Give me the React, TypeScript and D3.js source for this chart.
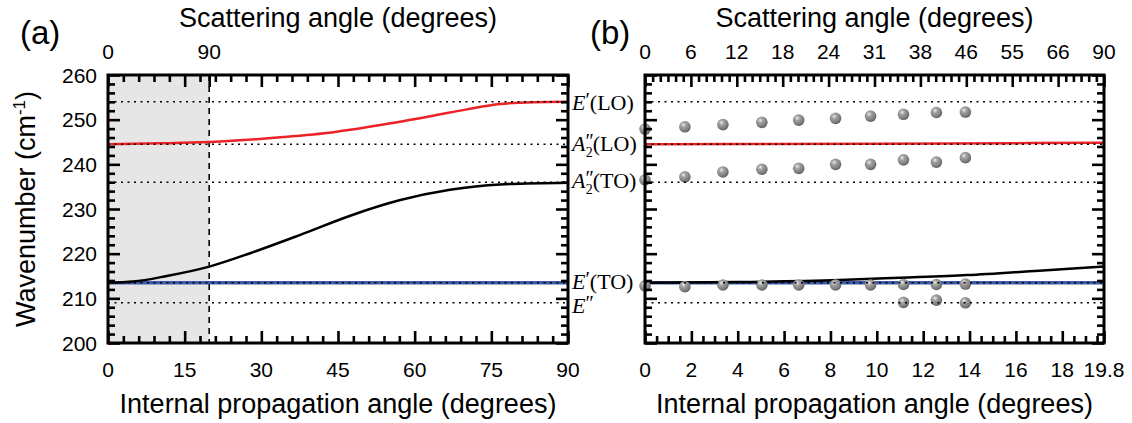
import React, { useEffect, useRef } from 'react';
import * as d3 from 'd3';

// ---------- data ----------
// Panel (a): internal propagation angle (deg) -> wavenumber (cm^-1)
const redAAngles = [0, 10, 19.8, 34.3, 44.1, 53.9, 63.7, 70.2, 76.7, 83.3, 90];
const redAValues = [244.5, 244.7, 245.0, 246.1, 247.2, 248.9, 250.9, 252.3, 253.5, 253.9, 254.0];
const blackAAngles = [0, 4.9, 11.5, 19.8, 27.8, 37.6, 47.4, 57.2, 66.9, 76.7, 90];
const blackAValues = [213.5, 213.75, 215.0, 217.1, 220.1, 224.2, 228.5, 232.0, 234.3, 235.5, 235.9];
const blueAAngles = [0, 90];
const blueAValues = [213.5, 213.5];
const criticalAngle = 19.8;

// Panel (b)
const redBAngles = [0, 10, 19.8];
const redBValues = [244.5, 244.6, 244.85];
const blackBAngles = [0, 4, 8.4, 11, 13.9, 17, 19.8];
const blackBValues = [213.5, 213.65, 214.1, 214.6, 215.2, 216.2, 217.1];
const blueBAngles = [0, 19.8];
const blueBValues = [213.5, 213.5];

// measured points (panel b)
const pointAngles = [0, 1.72, 3.36, 5.04, 6.63, 8.22, 9.73, 11.15, 12.57, 13.82];
const upperValues = [247.9, 248.4, 248.9, 249.4, 249.9, 250.3, 250.8, 251.2, 251.6, 251.7];
const middleValues = [236.5, 237.2, 238.3, 238.9, 239.1, 240.0, 240.0, 241.0, 240.5, 241.5];
const etoValues = [212.8, 212.6, 213.0, 213.0, 213.0, 213.0, 213.0, 213.1, 213.1, 213.2];
const ePPAngles = [11.15, 12.57, 13.82];
const ePPValues = [209.1, 209.6, 209.0];

// reference modes
const modeValues = [254, 244.5, 236, 213.5, 209];
const modeLetters = ['E', 'A', 'A', 'E', 'E'];
const modePrimes = ['\u2032', '\u2033', '\u2033', '\u2032', '\u2033'];
const modeSubs = ['', '2', '2', '', ''];
const modeTypes = ['(LO)', '(LO)', '(TO)', '(TO)', ''];
const modeLabelNudge = [8, 7, 6, 6, 10];

// tick labels
const yTickValues = [200, 210, 220, 230, 240, 250, 260];
const aBottomTicks = [0, 15, 30, 45, 60, 75, 90];
const aTopTickAngles = [0, 19.8];
const aTopTickLabels = ['0', '90'];
const bBottomTicks = [0, 2, 4, 6, 8, 10, 12, 14, 16, 18, 19.8];
const bTopTickLabels = ['0', '6', '12', '18', '24', '31', '38', '46', '55', '66', '90'];

// ---------- layout ----------
const W = 1132;
const H = 423;
const PT = 75;
const PB = 343;
const SANS = "'Liberation Sans', Arial, sans-serif";
const SERIF = "'Liberation Serif', 'Times New Roman', serif";
const MAJOR = 12;
const MINOR = 7;

const yScale = d3.scaleLinear().domain([200, 260]).range([PB, PT]);
const xA = d3.scaleLinear().domain([0, 90]).range([108, 568]);
const xB = d3.scaleLinear().domain([0, 19.8]).range([645, 1104]);

function linePath(x: d3.ScaleLinear<number, number>, xs: number[], ys: number[]) {
  const pts = xs.map((v, i) => [v, ys[i]] as [number, number]);
  return d3
    .line<[number, number]>()
    .x((d) => x(d[0]))
    .y((d) => yScale(d[1]))
    .curve(d3.curveMonotoneX)(pts) as string;
}

function RefLines({ x0, x1 }: { x0: number; x1: number }) {
  return (
    <g>
      {modeValues.map((v, i) => (
        <line key={i} x1={x0} x2={x1} y1={yScale(v)} y2={yScale(v)} stroke="#000" strokeWidth={1.6} strokeDasharray="2 4.5" />
      ))}
    </g>
  );
}

function Sphere({ cx, cy }: { cx: number; cy: number }) {
  return <circle cx={cx} cy={cy} r={5.8} fill="url(#sphere)" />;
}

export default function App() {
  const tickRef = useRef<SVGGElement | null>(null);
  const aL = xA.range()[0];
  const aR = xA.range()[1];
  const bL = xB.range()[0];
  const bR = xB.range()[1];
  const bTopMajors = bTopTickLabels.map((_, i) => (i * 19.8) / 10);

  useEffect(() => {
    const root = d3.select(tickRef.current);
    root.selectAll('*').remove();

    const aMinor = d3.range(0, 90.01, 3).filter((v) => v % 15 !== 0);
    const bMinorBottom = d3.range(0, 19.8, 0.5).filter((v) => v % 2 !== 0);
    const bTopMinors: number[] = [];
    for (let i = 0; i < 10; i++) {
      for (let k = 1; k < 6; k++) bTopMinors.push(((i + k / 6) * 19.8) / 10);
    }
    const yMajor = d3.range(200, 260.01, 10);
    const yMinor = d3.range(200, 260.01, 2).filter((v) => v % 10 !== 0);

    const draw = (axis: d3.Axis<number>, tx: number, ty: number) => {
      const g = root.append('g').attr('transform', `translate(${tx},${ty})`).call(axis as any);
      g.select('.domain').remove();
      g.selectAll('text').remove();
      g.selectAll('line').attr('stroke', '#000').attr('stroke-width', 2.6);
    };
    const mk = (a: d3.Axis<number>, vals: number[], size: number) =>
      a.tickValues(vals).tickSize(-size).tickFormat(() => '');

    // panel (a)
    draw(mk(d3.axisBottom(xA) as any, aBottomTicks, MAJOR), 0, PB);
    draw(mk(d3.axisBottom(xA) as any, aMinor, MINOR), 0, PB);
    draw(mk(d3.axisTop(xA) as any, [...aBottomTicks, criticalAngle], MAJOR), 0, PT);
    draw(mk(d3.axisTop(xA) as any, aMinor, MINOR), 0, PT);
    draw(mk(d3.axisLeft(yScale) as any, yMajor, MAJOR), aL, 0);
    draw(mk(d3.axisLeft(yScale) as any, yMinor, MINOR), aL, 0);
    draw(mk(d3.axisRight(yScale) as any, yMajor, MAJOR), aR, 0);
    draw(mk(d3.axisRight(yScale) as any, yMinor, MINOR), aR, 0);
    // panel (b)
    draw(mk(d3.axisBottom(xB) as any, bBottomTicks, MAJOR), 0, PB);
    draw(mk(d3.axisBottom(xB) as any, bMinorBottom, MINOR), 0, PB);
    draw(mk(d3.axisTop(xB) as any, bTopMajors, MAJOR), 0, PT);
    draw(mk(d3.axisTop(xB) as any, bTopMinors, MINOR), 0, PT);
    draw(mk(d3.axisLeft(yScale) as any, yMajor, MAJOR), bL, 0);
    draw(mk(d3.axisLeft(yScale) as any, yMinor, MINOR), bL, 0);
    draw(mk(d3.axisRight(yScale) as any, yMajor, MAJOR), bR, 0);
    draw(mk(d3.axisRight(yScale) as any, yMinor, MINOR), bR, 0);
  }, []);

  return (
    <svg width={W} height={H} style={{ position: 'absolute', left: 0, top: 0, background: '#fff' }}>
      <defs>
        <radialGradient id="sphere" cx="0.38" cy="0.33" r="0.7">
          <stop offset="0" stopColor="#ececec" />
          <stop offset="0.3" stopColor="#a2a2a2" />
          <stop offset="0.75" stopColor="#7c7c7c" />
          <stop offset="1" stopColor="#5a5a5a" />
        </radialGradient>
      </defs>

      {/* ---------------- panel (a) ---------------- */}
      <rect x={aL} y={PT} width={xA(criticalAngle) - aL} height={PB - PT} fill="#e6e6e6" />
      <line x1={xA(criticalAngle)} x2={xA(criticalAngle)} y1={PT} y2={PB} stroke="#000" strokeWidth={1.6} strokeDasharray="6 5" />
      <path d={linePath(xA, blueAAngles, blueAValues)} fill="none" stroke="#3d5ba9" strokeWidth={3.5} />
      <path d={linePath(xA, blackAAngles, blackAValues)} fill="none" stroke="#000" strokeWidth={2.5} />
      <path d={linePath(xA, redAAngles, redAValues)} fill="none" stroke="#ec2227" strokeWidth={2.5} />
      <RefLines x0={aL} x1={aR} />

      {/* ---------------- panel (b) ---------------- */}
      <path d={linePath(xB, blueBAngles, blueBValues)} fill="none" stroke="#3d5ba9" strokeWidth={3.5} />
      <path d={linePath(xB, blackBAngles, blackBValues)} fill="none" stroke="#000" strokeWidth={2.5} />
      <path d={linePath(xB, redBAngles, redBValues)} fill="none" stroke="#ec2227" strokeWidth={2.5} />
      {pointAngles.map((a, i) => (
        <g key={'p' + i}>
          <Sphere cx={xB(a)} cy={yScale(upperValues[i])} />
          <Sphere cx={xB(a)} cy={yScale(middleValues[i])} />
          <Sphere cx={xB(a)} cy={yScale(etoValues[i])} />
        </g>
      ))}
      {ePPAngles.map((a, i) => (
        <Sphere key={'e' + i} cx={xB(a)} cy={yScale(ePPValues[i])} />
      ))}
      <RefLines x0={bL} x1={bR} />

      {/* ticks drawn by d3 axes */}
      <g ref={tickRef} />

      {/* frames */}
      <rect x={aL} y={PT} width={aR - aL} height={PB - PT} fill="none" stroke="#000" strokeWidth={3} />
      <rect x={bL} y={PT} width={bR - bL} height={PB - PT} fill="none" stroke="#000" strokeWidth={3} />

      {/* ---------------- text ---------------- */}
      <g fontFamily={SANS} fill="#000">
        <text x={20} y={44} fontSize={33}>(a)</text>
        <text x={590} y={44} fontSize={33}>(b)</text>
        <text x={(aL + aR) / 2} y={27} fontSize={27} textAnchor="middle">Scattering angle (degrees)</text>
        <text x={(bL + bR) / 2} y={27} fontSize={27} textAnchor="middle">Scattering angle (degrees)</text>
        <text x={(aL + aR) / 2} y={413} fontSize={27} textAnchor="middle">Internal propagation angle (degrees)</text>
        <text x={(bL + bR) / 2} y={413} fontSize={27} textAnchor="middle">Internal propagation angle (degrees)</text>
        <text transform={`translate(35, ${(PT + PB) / 2}) rotate(-90)`} fontSize={27} textAnchor="middle">
          Wavenumber (cm<tspan fontSize={17} dy={-10}>-1</tspan><tspan dy={10}>)</tspan>
        </text>
        {yTickValues.map((v) => (
          <text key={'yl' + v} x={97} y={yScale(v)} dy="0.36em" fontSize={21} textAnchor="end">{v}</text>
        ))}
        {aBottomTicks.map((v) => (
          <text key={'ab' + v} x={xA(v)} y={377} fontSize={21} textAnchor="middle">{v}</text>
        ))}
        {aTopTickAngles.map((v, i) => (
          <text key={'at' + i} x={xA(v)} y={59} fontSize={21} textAnchor="middle">{aTopTickLabels[i]}</text>
        ))}
        {bBottomTicks.map((v, i) => (
          <text key={'bb' + i} x={xB(v)} y={377} fontSize={21} textAnchor="middle">{v}</text>
        ))}
        {bTopTickLabels.map((lab, i) => (
          <text key={'bt' + i} x={xB(bTopMajors[i])} y={59} fontSize={21} textAnchor="middle">{lab}</text>
        ))}
      </g>

      <g fontFamily={SERIF} fontSize={22} fill="#000">
        {modeValues.map((v, i) => (
          <text key={'ml' + i} x={aR + 4} y={yScale(v) + modeLabelNudge[i]}>
            <tspan fontStyle="italic">{modeLetters[i]}</tspan>
            <tspan fontSize={20} dy={-3}>{modePrimes[i]}</tspan>
            {modeSubs[i] ? (
              <tspan fontSize={14} dx={-8} dy={9}>{modeSubs[i]}</tspan>
            ) : null}
            <tspan dy={modeSubs[i] ? -6 : 3}>{modeTypes[i]}</tspan>
          </text>
        ))}
      </g>
    </svg>
  );
}
